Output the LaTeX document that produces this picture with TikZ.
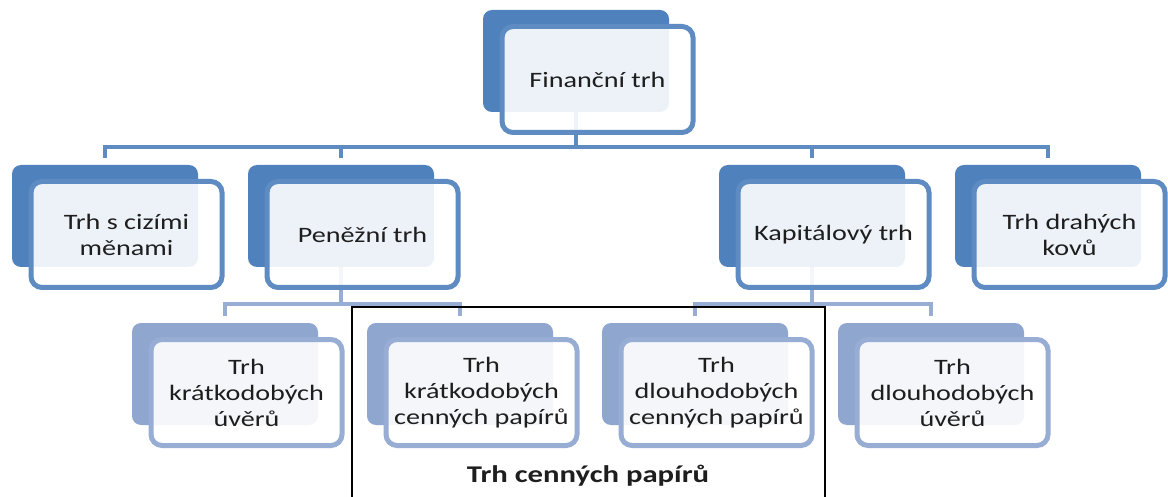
\documentclass[tikz,border=0pt]{standalone}
\usepackage{fontspec}
\setmainfont{Carlito}[FakeStretch=1.28]
\usetikzlibrary{calc}
\definecolor{darkblue}{RGB}{79,129,189}
\definecolor{paleblue}{RGB}{143,166,207}
\definecolor{textgray}{RGB}{30,30,30}
\tikzset{
	back/.style={minimum width=186pt, minimum height=102pt, rounded corners=9pt, inner sep=0pt},
	front/.style={minimum width=191pt, minimum height=106pt, rounded corners=11pt, line width=5pt,
		fill=white, fill opacity=0.9, text opacity=1, text=textgray, align=center,
		font=\fontsize{22}{26}\selectfont},
	backA/.style={back, fill=darkblue},
	backB/.style={back, fill=paleblue},
	frontA/.style={front, draw=darkblue!92!white},
	frontB/.style={front, draw=paleblue!92!white},
	linkA/.style={line width=4pt, draw=darkblue!92!white},
	linkB/.style={line width=4pt, draw=paleblue!92!white},
}

\begin{document}
\begin{tikzpicture}[x=1pt, y=-1pt]
		%%%%% START %%%%%
		\useasboundingbox[fill=white] (0, 0) rectangle (1168, 497);
		
		% back plates
		\node[backA] (fin) at (576, 61) {};
		\node[backA] (cizi) at (105, 216) {};
		\node[backA] (penez) at (341, 216) {};
		\node[backA] (kapit) at (812, 216) {};
		\node[backA] (drahe) at (1048, 216) {};
		\node[backB] (kratu) at (225, 374) {};
		\node[backB] (kratp) at (460, 374) {};
		\node[backB] (dloup) at (695, 374) {};
		\node[backB] (dlouu) at (931, 374) {};
		
		% connectors
		\coordinate (bus1) at (576, 147);
		\coordinate (bus2) at (0, 304);
		\draw[linkA] (fin.south) -- (fin.south |- bus1);
		\draw[linkA] ([yshift=7pt]cizi.north) |- (bus1) -| ([yshift=7pt]drahe.north);
		\draw[linkA] (bus1 -| penez) -- ([yshift=7pt]penez.north);
		\draw[linkA] (bus1 -| kapit) -- ([yshift=7pt]kapit.north);
		
		\draw[linkB] (penez.south) -- (penez.south |- bus2);
		\draw[linkB] ([yshift=7pt]kratu.north) |- (bus2 -| penez) -| ([yshift=7pt]kratp.north);
		\draw[linkB] (kapit.south) -- (kapit.south |- bus2);
		\draw[linkB] ([yshift=7pt]dloup.north) |- (bus2 -| kapit) -| ([yshift=7pt]dlouu.north);
		
		% front plates
		\node[frontA] (finT) at ([shift={(21.5,18.5)}]fin) {Finanční trh};
		\node[frontA] (ciziT) at ([shift={(21.5,18.5)}]cizi) {Trh s cizími\\měnami};
		\node[frontA] (penezT) at ([shift={(21.5,18.5)}]penez) {Peněžní trh};
		\node[frontA] (kapitT) at ([shift={(21.5,18.5)}]kapit) {Kapitálový trh};
		\node[frontA] (draheT) at ([shift={(21.5,18.5)}]drahe) {Trh drahých\\kovů};
		\node[frontB] (kratuT) at ([shift={(21.5,18.5)}]kratu) {Trh\\krátkodobých\\úvěrů};
		\node[frontB] (kratpT) at ([shift={(21.5,18.5)}]kratp) {Trh\\krátkodobých\\cenných papírů};
		\node[frontB] (dloupT) at ([shift={(21.5,18.5)}]dloup) {Trh\\dlouhodobých\\cenných papírů};
		\node[frontB] (dlouuT) at ([shift={(21.5,18.5)}]dlouu) {Trh\\dlouhodobých\\úvěrů};
		
		% frame of the securities market
		\coordinate (frameL) at (352, 497);
		\coordinate (frameR) at (825, 307);
		\draw[line width=1.3pt, black] (frameL) |- (frameR) -- (frameR |- frameL);
		\node[text=textgray, font=\bfseries\fontsize{24}{26}\selectfont] (cenne) at (588, 476) {Trh cenných papírů};
		
		%%%%% END %%%%%
	\end{tikzpicture}
\end{document}
